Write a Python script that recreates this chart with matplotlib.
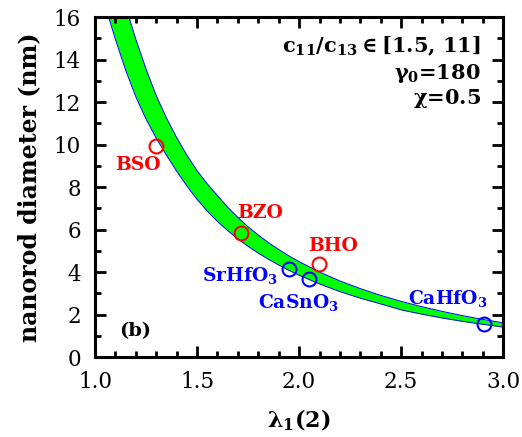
import matplotlib
matplotlib.use('Agg')
from matplotlib import pyplot as plt
from matplotlib.ticker import MultipleLocator

plt.rcParams['font.family'] = ['DejaVu Serif']
plt.rcParams['mathtext.fontset'] = 'custom'
plt.rcParams['mathtext.rm'] = 'DejaVu Serif:bold'
plt.rcParams['mathtext.it'] = 'DejaVu Serif:bold'
plt.rcParams['mathtext.bf'] = 'DejaVu Serif:bold'

# band edges (lambda_1(2), diameter nm)
band_lam = [1.07, 1.10, 1.15, 1.20, 1.25, 1.30, 1.35, 1.40, 1.45, 1.50,
            1.55, 1.60, 1.65, 1.70, 1.75, 1.80, 1.85, 1.90, 1.95, 2.00,
            2.10, 2.20, 2.30, 2.40, 2.50, 2.60, 2.70, 2.80, 2.90, 3.00]
band_low = [15.9, 14.95, 13.5, 12.25, 11.2, 10.3, 9.5, 8.75, 8.05, 7.42,
            6.87, 6.38, 5.95, 5.56, 5.21, 4.89, 4.6, 4.33, 4.08, 3.85,
            3.44, 3.08, 2.77, 2.5, 2.22, 2.02, 1.84, 1.68, 1.54, 1.41]
band_high = [19.5, 18.3, 16.5, 14.95, 13.55, 12.3, 11.25, 10.33, 9.5, 8.77,
             8.15, 7.6, 7.05, 6.57, 6.13, 5.74, 5.38, 5.06, 4.76, 4.49,
             4.0, 3.58, 3.22, 2.9, 2.62, 2.37, 2.15, 1.95, 1.77, 1.61]

# measured materials
red_names = ['BSO', 'BZO', 'BHO']
red_lam = [1.30, 1.714, 2.098]
red_d = [9.95, 5.85, 4.38]

blue_names = ['SrHfO$_3$', 'CaSnO$_3$', 'CaHfO$_3$']
blue_lam = [1.951, 2.049, 2.908]
blue_d = [4.14, 3.65, 1.55]

fig = plt.figure(figsize=(5.22, 4.37), dpi=100)
ax = fig.add_axes([0.182, 0.183, 0.782, 0.778])

ax.fill_between(band_lam, band_low, band_high, color='#00ff00', lw=0, zorder=1)
ax.plot(band_lam, band_low, color='blue', lw=0.7, zorder=2)
ax.plot(band_lam, band_high, color='blue', lw=0.7, zorder=2)

ax.plot(red_lam, red_d, 'o', ms=10, mfc='none', mec='red', mew=1.5, zorder=3)
ax.plot(blue_lam, blue_d, 'o', ms=10, mfc='none', mec='blue', mew=1.5, zorder=3)

lab = dict(fontsize=13.5, fontweight='bold')
ax.text(1.211, 9.03, red_names[0], color='red', ha='center', va='center', **lab)
ax.text(1.81, 6.78, red_names[1], color='red', ha='center', va='center', **lab)
ax.text(2.167, 5.22, red_names[2], color='red', ha='center', va='center', **lab)
ax.text(1.895, 3.85, blue_names[0], color='blue', ha='right', va='center', **lab)
ax.text(1.80, 2.55, blue_names[1], color='blue', ha='left', va='center', **lab)
ax.text(2.73, 2.75, blue_names[2], color='blue', ha='center', va='center', **lab)

note = dict(ha='right', va='center', fontsize=15, fontweight='bold')
ax.text(2.89, 14.6, r'c$_{11}$/c$_{13}$$\in$[1.5, 11]', **note)
ax.text(2.89, 13.35, r'$\gamma_0$=180', **note)
ax.text(2.89, 12.15, r'$\chi$=0.5', **note)
ax.text(1.196, 1.22, '(b)', ha='center', va='center', fontsize=14, fontweight='bold')

ax.set_xlim(1.0, 3.0)
ax.set_ylim(0, 16)
ax.xaxis.set_major_locator(MultipleLocator(0.5))
ax.xaxis.set_minor_locator(MultipleLocator(0.1))
ax.yaxis.set_major_locator(MultipleLocator(2))
ax.yaxis.set_minor_locator(MultipleLocator(1))
ax.tick_params(which='both', direction='in', top=True, right=True, width=2)
ax.tick_params(which='major', length=8, labelsize=15.5)
ax.tick_params(axis='x', which='major', pad=10)
ax.tick_params(axis='y', which='major', pad=10)
ax.tick_params(which='minor', length=4)
for s in ax.spines.values():
    s.set_linewidth(2.2)

ax.set_xlabel(r'$\lambda_1$(2)', fontsize=16, fontweight='bold', labelpad=11)
ax.set_ylabel('nanorod diameter (nm)', fontsize=17, fontweight='bold', labelpad=9)

plt.savefig('out.png', dpi=100)
